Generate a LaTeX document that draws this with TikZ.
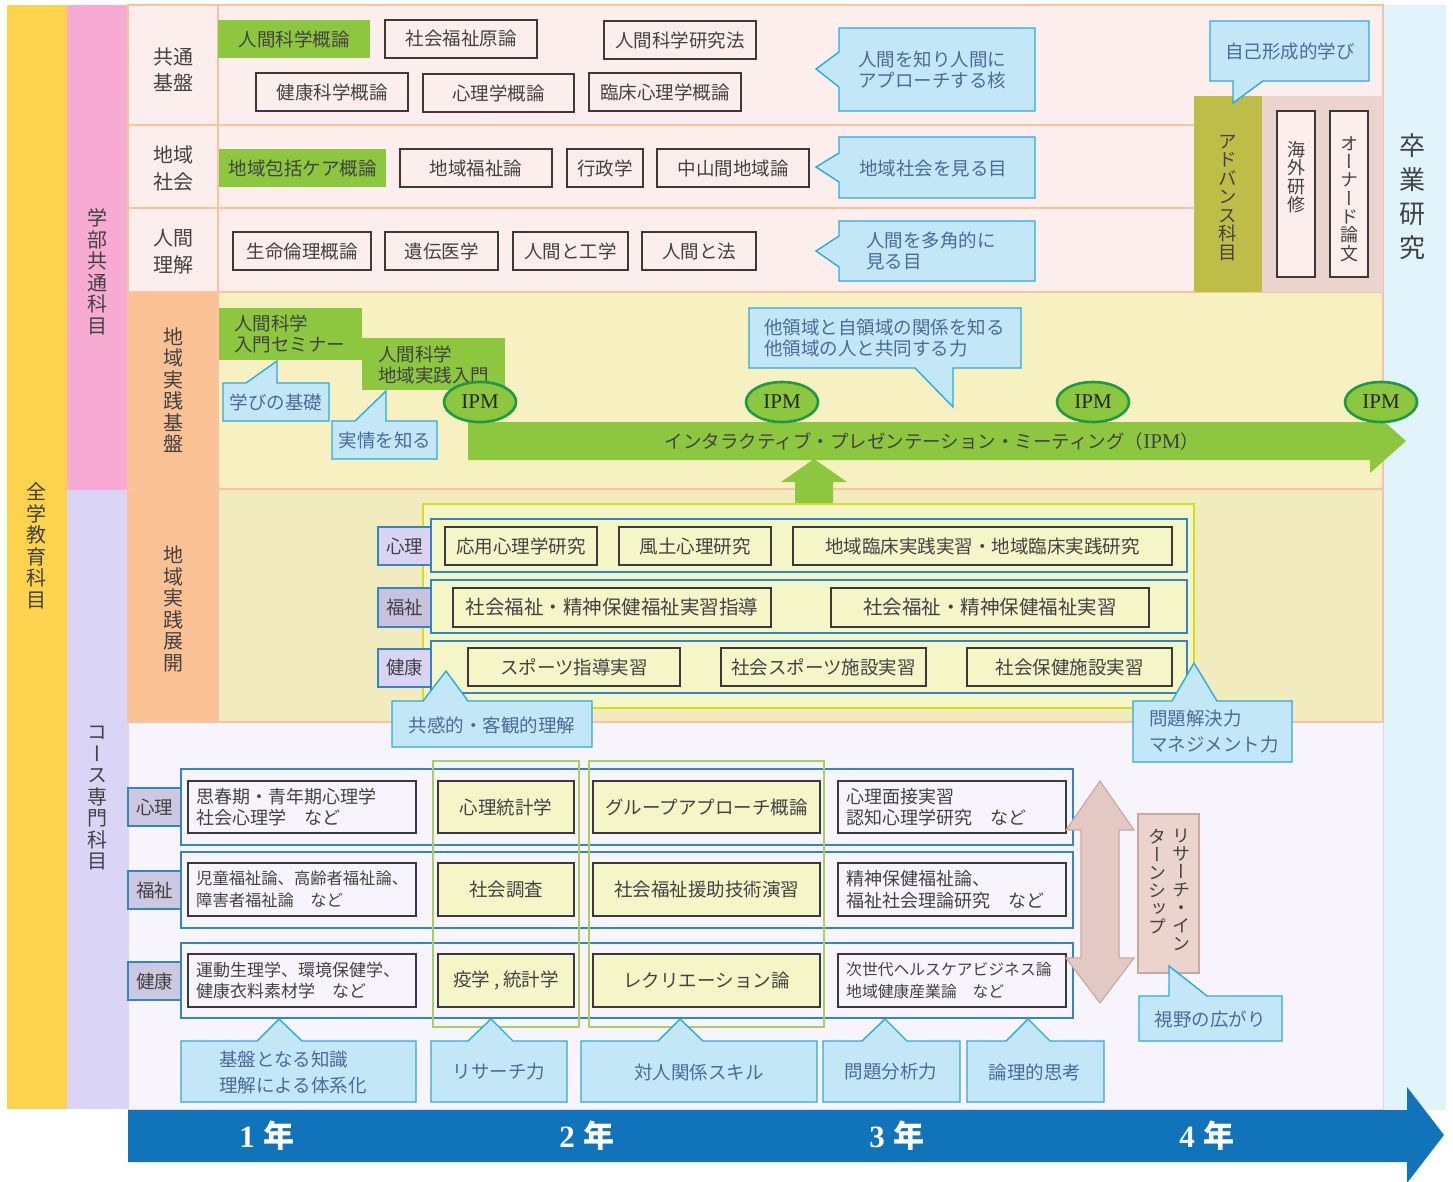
\documentclass[tikz,border=0pt]{standalone}
\usepackage{fontspec}
\setmainfont{Noto Sans CJK JP}
\newfontfamily\vjp{Noto Sans CJK JP}[RawFeature=+vert]
\newfontfamily\tms{Liberation Serif}
\usetikzlibrary{shapes.geometric}
\definecolor{ycol}{HTML}{FDD34E}
\definecolor{pcol}{HTML}{F7AAD2}
\definecolor{lcol}{HTML}{DAD4F6}
\definecolor{pinkbg}{HTML}{FDEEEE}
\definecolor{orline}{HTML}{F8C3A0}
\definecolor{salmon}{HTML}{F9C194}
\definecolor{kiban}{HTML}{F7F1C1}
\definecolor{tenkai}{HTML}{F2EBBD}
\definecolor{botbg}{HTML}{F8F4FD}
\definecolor{sotsu}{HTML}{E1F4FC}
\definecolor{grn}{HTML}{8DC63F}
\definecolor{dkgrn}{HTML}{1E9A46}
\definecolor{calfill}{HTML}{C4E7F8}
\definecolor{calline}{HTML}{29ABE2}
\definecolor{caltxt}{HTML}{4A6A9C}
\definecolor{olv}{HTML}{BEBD48}
\definecolor{brn}{HTML}{EBD3CE}
\definecolor{yfill}{HTML}{F4F6C8}
\definecolor{yline}{HTML}{D6DE23}
\definecolor{bline}{HTML}{3584C4}
\definecolor{lblA}{HTML}{D9D4F4}
\definecolor{lblB}{HTML}{C8C1DF}
\definecolor{lblC}{HTML}{CDC8E2}
\definecolor{gline}{HTML}{A8D060}
\definecolor{darr}{HTML}{E3C9C3}
\definecolor{darrl}{HTML}{CDA89F}
\definecolor{barr}{HTML}{1173BA}
\definecolor{txt}{HTML}{424242}
\definecolor{boxline}{HTML}{3A3A3A}
\newcommand\fs[2]{\fontsize{#1}{#2}\selectfont}
\newcommand\bx[8][]{\node[#2,minimum width={#5-#3},minimum height={#6-#4},#1] (#7) at ({(#3+#5)/2},{(#4+#6)/2}) {#8};}
\newcommand\callL[8]{\draw[callout] (#1,#2) -- (#3,#2) -- (#3,#4) -- (#1,#4) -- (#1,#8) -- (#6,#7) -- (#1,#5) -- cycle;}
\newcommand\callU[8]{\draw[callout] (#1,#2) -- (#5,#2) -- (#6,#7) -- (#8,#2) -- (#3,#2) -- (#3,#4) -- (#1,#4) -- cycle;}
\tikzset{
 cbox/.style={draw=boxline, line width=1.4pt, fill=pinkbg, inner sep=0pt, text=txt, font={\fs{18.5}{22}}},
 gbox/.style={fill=grn, draw=none, inner sep=0pt, text=txt, font={\fs{18.5}{22}}},
 bframe/.style={draw=bline, line width=1.4pt, inner sep=0pt},
 lbl/.style={draw=bline, line width=1.4pt, fill=lblA, inner sep=0pt, text=txt, font={\fs{18.5}{22}}},
 callout/.style={draw=calline, line width=1.4pt, fill=calfill},
 ctext/.style={text=caltxt, font={\fs{18.5}{21}}, inner sep=0pt},
 ttext/.style={text=txt, font={\fs{18.5}{21}}, inner sep=0pt},
 vtext/.style={text=txt, font={\vjp\fs{20}{21.5}}, align=center, inner sep=0pt},
 htext/.style={text=txt, font={\fs{20}{26.5}}, align=center, inner sep=0pt},
 ipm/.style={ellipse, fill=grn, draw=dkgrn, line width=2.6pt, minimum width=72pt, minimum height=40pt, inner sep=0pt, font={\tms\fs{21}{24}}, text=black!85},
 yr/.style={text=white, font={\bfseries\fs{31}{34}}, inner sep=0pt},
}
\begin{document}
\begin{tikzpicture}[x=1pt,y=-1pt]
\useasboundingbox (0,0) rectangle (1453,1182);
\fill[white] (0,0) rectangle (1453,1182);
% ---------- backgrounds
\fill[ycol] (7,5) rectangle (67,1109);
\fill[pcol] (67,5) rectangle (128,490);
\fill[lcol] (67,490) rectangle (128,1109);
\filldraw[fill=sotsu, draw=sotsu!80!blue!30, line width=0.8pt] (1383,5) rectangle (1445,1109);
\filldraw[fill=botbg, draw=lcol, line width=0.8pt] (128,722) rectangle (1383,1109);
\fill[tenkai] (218,489) rectangle (1383,722);
\fill[salmon] (128,489) rectangle (218,722);
\fill[kiban] (218,292) rectangle (1383,489);
\fill[salmon] (128,292) rectangle (218,489);
\fill[pinkbg] (128,5) rectangle (1383,292);
\begin{scope}[draw=orline, line width=1.6pt]
\draw (128,5) rectangle (1383,722);
\draw (128,125) -- (1194,125);
\draw (128,208) -- (1194,208);
\draw (128,292) -- (1383,292);
\draw (128,489) -- (1383,489);
\draw (218,5) -- (218,722);
\end{scope}
% ---------- column titles
\node[vtext] (zengaku) at (37,546) {全\\学\\教\\育\\科\\目};
\node[vtext] (gakubu) at (97,272) {学\\部\\共\\通\\科\\目};
\node[vtext] (course) at (97,798) {コ\\ー\\ス\\専\\門\\科\\目};
\node[vtext] (jkiban) at (173,390) {地\\域\\実\\践\\基\\盤};
\node[vtext] (jtenkai) at (173,609) {地\\域\\実\\践\\展\\開};
\node[htext] (kyotsu) at (173,69.5) {共通\\基盤};
\node[htext] (chiiki) at (173,168.5) {地域\\社会};
\node[htext] (ningen) at (173,251.5) {人間\\理解};
\node[vtext, font={\vjp\fs{26}{34}}] (sotsuken) at (1412,197) {卒\\業\\研\\究};
% ---------- top region boxes
\bx{gbox}{218}{20}{370}{58}{t1}{人間科学概論}
\bx{cbox}{385}{20}{537}{58}{t2}{社会福祉原論}
\bx{cbox}{604}{21}{756}{59}{t3}{人間科学研究法}
\bx{cbox}{256}{73}{408}{111}{t4}{健康科学概論}
\bx{cbox}{423}{74}{574}{112}{t5}{心理学概論}
\bx{cbox}{589}{73}{741}{111}{t6}{臨床心理学概論}
\bx{gbox}{219}{149}{386}{187}{t7}{地域包括ケア概論}
\bx{cbox}{400}{149}{552}{187}{t8}{地域福祉論}
\bx{cbox}{567}{149}{643}{187}{t9}{行政学}
\bx{cbox}{657}{149}{809}{187}{t10}{中山間地域論}
\bx{cbox}{233}{232}{371}{270}{t11}{生命倫理概論}
\bx{cbox}{385}{232}{498}{270}{t12}{遺伝医学}
\bx{cbox}{513}{232}{628}{270}{t13}{人間と工学}
\bx{cbox}{642}{232}{756}{270}{t14}{人間と法}
% top callouts
\callL{839}{28}{1035}{111}{52}{816}{69}{87}
\node[ctext, anchor=west, align=left] (c1) at (858,70) {人間を知り人間に\\アプローチする核};
\callL{839}{137}{1035}{198}{153}{816}{167}{182}
\node[ctext] (c2) at (933,168) {地域社会を見る目};
\callL{839}{221}{1035}{281}{236}{816}{251}{267}
\node[ctext, anchor=west, align=left] (c3) at (866,251) {人間を多角的に\\見る目};
% ---------- advanced
\fill[olv] (1194,96) rectangle (1262,292);
\fill[brn] (1262,96) rectangle (1383,292);
\node[vtext, font={\vjp\fs{18.5}{18.5}}] (adv) at (1228,198) {ア\\ド\\バ\\ン\\ス\\科\\目};
\bx{cbox}{1277}{111}{1315}{277}{kaigaibox}{}
\bx{cbox}{1330}{111}{1368}{277}{honorbox}{}
\node[vtext, font={\vjp\fs{18}{18.5}}, anchor=north] (kaigai) at (1296,141) {海\\外\\研\\修};
\node[vtext, font={\vjp\fs{18}{18.3}}] (honor) at (1349,199) {オ\\ー\\ナ\\ー\\ド\\論\\文};
\draw[callout] (1210,21) -- (1369,21) -- (1369,81) -- (1263,81) -- (1233,103) -- (1233,81) -- (1210,81) -- cycle;
\node[ctext] (c4) at (1290,51) {自己形成的学び};
% ---------- 地域実践基盤
\bx{gbox}{219}{308}{362}{360}{g1}{}
\bx{gbox}{362}{338}{505}{390}{g2}{}
\node[ttext, anchor=west, align=left] (g1t) at (234,334) {人間科学\\入門セミナー};
\node[ttext, anchor=west, align=left] (g2t) at (378,365) {人間科学\\地域実践入門};
\draw[callout] (223,383) -- (246,383) -- (277,361) -- (277,383) -- (329,383) -- (329,421) -- (223,421) -- cycle;
\node[ctext] (c5) at (276,402) {学びの基礎};
\draw[callout] (332,421) -- (355,421) -- (386,391) -- (386,421) -- (437,421) -- (437,459) -- (332,459) -- cycle;
\node[ctext] (c6) at (385,440) {実情を知る};
\draw[callout] (749,308) -- (1021,308) -- (1021,368) -- (953,368) -- (953,407) -- (915,368) -- (749,368) -- cycle;
\node[ctext, anchor=west, align=left] (c7) at (764,338) {他領域と自領域の関係を知る\\他領域の人と共同する力};
% big green arrow
\fill[grn] (468,422) -- (1370,422) -- (1370,409) -- (1406,441) -- (1370,473) -- (1370,460) -- (468,460) -- cycle;
\node[ttext] (ipmtext) at (932,441) {インタラクティブ・プレゼンテーション・ミーティング（{\tms\fs{21}{22}IPM}）};
\fill[grn] (795,505) -- (795,482) -- (781,482) -- (814,459) -- (847,482) -- (833,482) -- (833,505) -- cycle;
\node[ipm] (ipm1) at (480,402) {IPM};
\node[ipm] (ipm2) at (782,402) {IPM};
\node[ipm] (ipm3) at (1093,402) {IPM};
\node[ipm] (ipm4) at (1381,402) {IPM};
% ---------- 地域実践展開
\bx[draw=yline, fill=yfill, line width=1.6pt]{bframe}{423}{504}{1194}{708}{inner}{}
\bx{bframe}{431}{519}{1187}{572}{r1}{}
\bx{bframe}{431}{580}{1187}{633}{r2}{}
\bx{bframe}{431}{641}{1187}{693}{r3}{}
\bx{lbl}{378}{527}{431}{565}{l1}{心理}
\bx[fill=lblB]{lbl}{378}{588}{431}{627}{l2}{福祉}
\bx{lbl}{378}{649}{431}{687}{l3}{健康}
\bx[fill=yfill]{cbox}{445}{527}{597}{565}{e1}{応用心理学研究}
\bx[fill=yfill]{cbox}{619}{527}{771}{565}{e2}{風土心理研究}
\bx[fill=yfill]{cbox}{793}{527}{1172}{565}{e3}{地域臨床実践実習・地域臨床実践研究}
\bx[fill=yfill, font={\fs{19.5}{22}}]{cbox}{453}{588}{771}{627}{e4}{社会福祉・精神保健福祉実習指導}
\bx[fill=yfill, font={\fs{19.5}{22}}]{cbox}{831}{588}{1149}{627}{e5}{社会福祉・精神保健福祉実習}
\bx[fill=yfill]{cbox}{468}{648}{680}{686}{e6}{スポーツ指導実習}
\bx[fill=yfill]{cbox}{721}{648}{926}{686}{e7}{社会スポーツ施設実習}
\bx[fill=yfill]{cbox}{967}{648}{1172}{686}{e8}{社会保健施設実習}
\callU{392}{701}{592}{747}{423}{446}{671}{468}
\node[ctext] (c8) at (492,725) {共感的・客観的理解};
\callU{1133}{701}{1292}{762}{1172}{1194}{663}{1217}
\node[ctext, anchor=west, align=left, font={\fs{18.5}{26}}] (c9) at (1149,731) {問題解決力\\マネジメント力};
% ---------- course subjects
\bx{bframe}{181}{769}{1073}{845}{f1}{}
\bx{bframe}{181}{852}{1073}{928}{f2}{}
\bx{bframe}{181}{943}{1073}{1018}{f3}{}
\bx[fill=lblC]{lbl}{128}{788}{181}{826}{m1}{心理}
\bx[fill=lblC]{lbl}{128}{871}{181}{909}{m2}{福祉}
\bx[fill=lblC]{lbl}{128}{962}{181}{1000}{m3}{健康}
\bx[draw=gline, line width=1.6pt]{bframe}{433}{761}{579}{1027}{colA}{}
\bx[draw=gline, line width=1.6pt]{bframe}{589}{761}{824}{1027}{colB}{}
\bx[fill=botbg]{cbox}{188}{781}{416}{833}{a1}{}
\bx[fill=botbg]{cbox}{188}{863}{416}{916}{a2}{}
\bx[fill=botbg]{cbox}{188}{954}{416}{1007}{a3}{}
\node[ttext, anchor=west, align=left, font={\fs{18}{21.5}}] (a1t) at (196,807) {思春期・青年期心理学\\社会心理学　など};
\node[ttext, anchor=west, align=left, font={\fs{16.3}{21.5}}] (a2t) at (196,889.5) {児童福祉論、高齢者福祉論、\\障害者福祉論　など};
\node[ttext, anchor=west, align=left, font={\fs{17}{21.5}}] (a3t) at (196,980.5) {運動生理学、環境保健学、\\健康衣料素材学　など};
\bx[fill=yfill]{cbox}{438}{781}{574}{833}{b1}{心理統計学}
\bx[fill=yfill]{cbox}{438}{863}{574}{916}{b2}{社会調査}
\bx[fill=yfill]{cbox}{438}{954}{574}{1007}{b3}{疫学 , 統計学}
\bx[fill=yfill]{cbox}{593}{781}{820}{833}{d1}{グループアプローチ概論}
\bx[fill=yfill]{cbox}{593}{863}{820}{916}{d2}{社会福祉援助技術演習}
\bx[fill=yfill]{cbox}{593}{954}{820}{1007}{d3}{レクリエーション論}
\bx[fill=botbg]{cbox}{838}{781}{1066}{833}{h1}{}
\bx[fill=botbg]{cbox}{838}{863}{1066}{916}{h2}{}
\bx[fill=botbg]{cbox}{838}{954}{1066}{1007}{h3}{}
\node[ttext, anchor=west, align=left, font={\fs{18}{21.5}}] (h1t) at (846,807) {心理面接実習\\認知心理学研究　など};
\node[ttext, anchor=west, align=left, font={\fs{18}{21.5}}] (h2t) at (846,889.5) {精神保健福祉論、\\福祉社会理論研究　など};
\node[ttext, anchor=west, align=left, font={\fs{15.8}{21.5}}] (h3t) at (846,980.5) {次世代ヘルスケアビジネス論\\地域健康産業論　など};
% double arrow
\filldraw[fill=darr, draw=darrl, line width=1.2pt] (1100,781) -- (1134,830) -- (1119,830) -- (1119,958) -- (1134,958) -- (1100,1003) -- (1066,958) -- (1081,958) -- (1081,830) -- (1066,830) -- cycle;
\bx[fill=brn, draw=darrl, line width=1.2pt]{bframe}{1138}{814}{1199}{973}{intern}{}
\node[vtext, font={\vjp\fs{18}{18}}, anchor=north] (intern1) at (1181,829) {リ\\サ\\ー\\チ\\・\\イ\\ン};
\node[vtext, font={\vjp\fs{18}{18}}, anchor=north] (intern2) at (1157,829) {タ\\ー\\ン\\シ\\ッ\\プ};
\draw[callout] (1139,996) -- (1169,996) -- (1169,966) -- (1207,996) -- (1282,996) -- (1282,1041) -- (1139,1041) -- cycle;
\node[ctext] (c10) at (1210,1019) {視野の広がり};
% bottom callouts
\callU{181}{1041}{416}{1102}{257}{279}{1019}{302}
\node[ctext, anchor=west, align=left, font={\fs{18.5}{26}}] (c11) at (219,1072) {基盤となる知識\\理解による体系化};
\callU{431}{1041}{567}{1102}{468}{491}{1019}{513}
\node[ctext] (c12) at (499,1072) {リサーチ力};
\callU{581}{1041}{817}{1102}{658}{680}{1019}{703}
\node[ctext] (c13) at (699,1072) {対人関係スキル};
\callU{823}{1041}{960}{1102}{862}{885}{1019}{907}
\node[ctext] (c14) at (891,1072) {問題分析力};
\callU{967}{1041}{1104}{1102}{1006}{1028}{1019}{1050}
\node[ctext] (c15) at (1035,1072) {論理的思考};
% ---------- year arrow
\fill[barr] (128,1110) -- (1407,1110) -- (1407,1087) -- (1444,1135) -- (1407,1183) -- (1407,1162) -- (128,1162) -- cycle;
\node[yr] (y1) at (267,1136) {{\tms 1}\hspace{9pt}年};
\node[yr] (y2) at (587,1136) {{\tms 2}\hspace{9pt}年};
\node[yr] (y3) at (897,1136) {{\tms 3}\hspace{9pt}年};
\node[yr] (y4) at (1207,1136) {{\tms 4}\hspace{9pt}年};
\end{tikzpicture}
\end{document}
